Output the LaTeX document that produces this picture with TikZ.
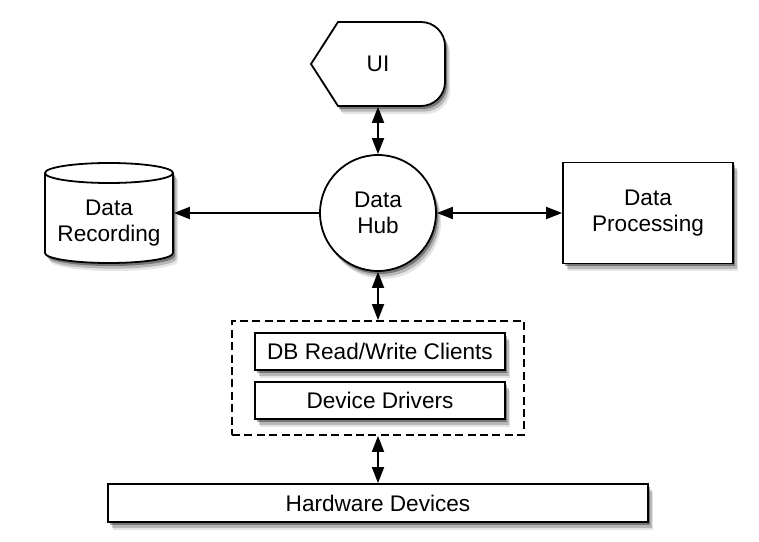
\documentclass[tikz,border=0pt]{standalone}
\usepackage{fontspec}
\setmainfont{Liberation Sans}
\usetikzlibrary{arrows.meta,shadows}
\tikzset{
	soft shadow/.style={drop shadow={shadow xshift=1.0pt, shadow yshift=-1.5pt, opacity=.35, fill=black},
		drop shadow={shadow xshift=1.8pt, shadow yshift=-2.8pt, opacity=.20, fill=black},
		drop shadow={shadow xshift=2.6pt, shadow yshift=-4.0pt, opacity=.10, fill=black}},
	box/.style={draw, fill=white, inner sep=0pt, align=center, soft shadow, font=\fontsize{11.3}{13}\selectfont},
	txtonly/.style={inner sep=0pt, align=center, font=\fontsize{11.3}{13}\selectfont},
	twoway/.style={{Triangle[length=8pt,width=6pt]}-{Triangle[length=8pt,width=6pt]}},
	oneway/.style={-{Triangle[length=8pt,width=6pt]}}
}

\begin{document}
\begin{tikzpicture}[x=0.5pt, y=0.5pt, line width=0.9pt]
		%%%%% START %%%%%
		
		\fill[white] (0, 0) rectangle (759, 541);
		\useasboundingbox (0, 0) rectangle (759, 541);
		
		% display shape
		\draw[fill=white, soft shadow] (311, 477) -- (338, 519) -- (421, 519) arc (90:0:12pt)
			-- (445, 459) arc (0:-90:12pt) -- (338, 435) -- cycle;
		\node[txtonly, minimum width=67pt, minimum height=42pt] (ui) at (378, 477) {UI};
		
		% data store
		\draw[fill=white, soft shadow] (45, 368) -- (45, 288) arc (180:360:32pt and 5pt)
			-- (173, 368) arc (0:180:32pt and 5pt) -- cycle;
		\draw (45, 368) arc (180:360:32pt and 5pt);
		\node[txtonly, minimum width=64pt, minimum height=40pt] (rec) at (109, 318) {Data\\Recording};
		
		\node[box, circle, minimum size=58pt] (hub) at (378, 328) {Data\\Hub};
		\node[box, minimum width=85pt, minimum height=50.5pt] (proc) at (648, 328) {Data\\Processing};
		
		\node[draw, dash pattern=on 4pt off 2.2pt, minimum width=146pt, minimum height=57pt] (layer) at (378, 163) {};
		\node[box, minimum width=125pt, minimum height=18.5pt] (dbrw) at (380, 189.5) {DB Read/Write Clients};
		\node[box, minimum width=125pt, minimum height=18.5pt] (drv) at (380, 140.5) {Device Drivers};
		
		\node[box, minimum width=270pt, minimum height=19pt] (hw) at (378, 38) {Hardware Devices};
		
		\draw[twoway] (ui.south) -- (hub.north);
		\draw[oneway] (hub.west) -- (hub -| rec.east);
		\draw[twoway] (hub.east) -- (proc.west);
		\draw[twoway] (hub.south) -- (layer.north);
		\draw[twoway] (layer.south) -- (hw.north);
		
		%%%%% END %%%%%
\end{tikzpicture}
\end{document}
